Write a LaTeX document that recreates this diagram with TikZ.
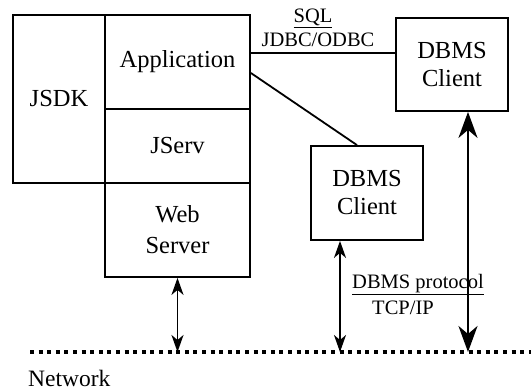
\documentclass[tikz,border=0pt]{standalone}
\usepackage{fontspec}
\setmainfont{Liberation Serif}
\usetikzlibrary{arrows.meta,calc}
\begin{document}
\begin{tikzpicture}[x=1pt,y=-1pt,
  box/.style={draw,line width=1.8pt,inner sep=0pt,align=center,font=\fontsize{24.5}{28}\selectfont},
  lbl/.style={inner sep=0pt,font=\fontsize{20.5}{22}\selectfont},
  link/.style={line width=1.8pt},
  arr/.style={line width=1.8pt,{Stealth[length=17pt,width=12pt,inset=5pt]}-{Stealth[length=17pt,width=12pt,inset=5pt]}},
  bigarr/.style={line width=2.4pt,{Stealth[length=26pt,width=19pt,inset=8pt]}-{Stealth[length=26pt,width=19pt,inset=8pt]}},
  net/.style={line width=4pt,dash pattern=on 4pt off 4.6pt}]
\useasboundingbox (0,0) rectangle (531,391);
\node[box,minimum width=92pt,minimum height=168pt] (jsdk) at (59,99) {JSDK};
\node[box,minimum width=145pt,minimum height=94pt] (app) at (177.5,62) {Application};
\node[box,minimum width=145pt,minimum height=74pt] (jserv) at (177.5,146) {JServ};
\node[box,minimum width=145pt,minimum height=94pt,font=\fontsize{24.5}{31}\selectfont] (web) at (177.5,230) {Web\\Server};
\node[box,minimum width=112pt,minimum height=93pt] (db1) at (452,64.5) {DBMS\\Client};
\node[box,minimum width=112pt,minimum height=94pt] (db2) at (367,193) {DBMS\\Client};
\coordinate (netl) at (30,352);
\coordinate (netr) at (531,352);
\draw[net] (netl) -- (netr);
\draw[link] (app.east |- 0,53) -- (db1.west |- 0,53);
\draw[link] (app.east |- 0,73) -- ($(db2.north)+(-10,0)$);
\draw[arr] (web.south) -- (web.south |- netl);
\draw[arr] (db2.south -| 340,0) -- (340,352);
\draw[bigarr] (db1.south -| 468,0) -- (468,352);
\node[lbl] (sql) at (313,18) {\underline{SQL}};
\node[lbl] (jdbc) at (318,40) {JDBC/ODBC};
\node[lbl] (proto) at (418,285) {\underline{DBMS protocol}};
\node[lbl] (tcp) at (403,308) {TCP/IP};
\node[inner sep=0pt,anchor=base west,font=\fontsize{23.5}{26}\selectfont] (network) at (28,386) {Network};
\end{tikzpicture}
\end{document}
